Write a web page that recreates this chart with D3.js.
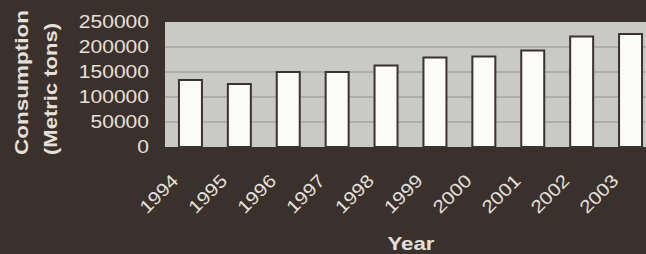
<!DOCTYPE html>
<html>
<head>
<meta charset="utf-8">
<script src="https://cdn.jsdelivr.net/npm/d3@7"></script>
<style>
  html, body { margin: 0; padding: 0; background: #3b312c; }
  svg { display: block; }
</style>
</head>
<body>
<div id="chart"></div>
<script>
// chart data
var years = ["1994", "1995", "1996", "1997", "1998", "1999", "2000", "2001", "2002", "2003"];
var consumption = [134000, 126000, 150000, 150000, 163000, 179000, 181000, 193000, 221000, 226000];
var yTicks = [0, 50000, 100000, 150000, 200000, 250000];

var svgWidth = 646, svgHeight = 254;
var margin = { top: 22, left: 165, bottom: 107 };
var plotHeight = svgHeight - margin.top - margin.bottom; // 125
var plotWidth = 490; // runs past the right edge like the original

var svg = d3.select("#chart")
    .append("svg")
    .attr("width", svgWidth)
    .attr("height", svgHeight);

svg.append("rect")
    .attr("width", svgWidth)
    .attr("height", svgHeight)
    .attr("fill", "#3b312c");

var g = svg.append("g")
    .attr("transform", "translate(" + margin.left + "," + margin.top + ")");

var xScale = d3.scaleBand()
    .domain(years)
    .range([1, 1 + 48.9 * years.length])
    .paddingInner(0.53)
    .paddingOuter(0.265);

var yScale = d3.scaleLinear()
    .domain([0, 250000])
    .range([plotHeight, 0]);

// plot background
g.append("rect")
    .attr("width", plotWidth)
    .attr("height", plotHeight)
    .attr("fill", "#c9c9c6");

// gridlines
g.selectAll(".grid")
    .data(yTicks.filter(function(d) { return d > 0 && d < 250000; }))
    .enter().append("line")
    .attr("class", "grid")
    .attr("x1", 0)
    .attr("x2", plotWidth)
    .attr("y1", function(d) { return yScale(d); })
    .attr("y2", function(d) { return yScale(d); })
    .attr("stroke", "#929290")
    .attr("stroke-width", 1.2);

// bars
g.selectAll(".bar")
    .data(consumption)
    .enter().append("rect")
    .attr("class", "bar")
    .attr("x", function(d, i) { return xScale(years[i]); })
    .attr("width", xScale.bandwidth())
    .attr("y", function(d) { return yScale(d); })
    .attr("height", function(d) { return plotHeight - yScale(d); })
    .attr("fill", "#fbfbfa")
    .attr("stroke", "#3a3330")
    .attr("stroke-width", 2);

// y axis
var yAxisGroup = g.append("g")
    .attr("class", "y-axis")
    .call(d3.axisLeft(yScale).tickValues(yTicks).tickSize(0).tickPadding(16).tickFormat(d3.format("d")));
yAxisGroup.select(".domain").remove();
yAxisGroup.selectAll("text")
    .attr("fill", "#e4e0dc")
    .style("font-family", "'Liberation Sans', Arial, sans-serif")
    .style("font-size", "18px")
    .attr("textLength", function(d) { return String(d).length * 11.7; })
    .attr("lengthAdjust", "spacingAndGlyphs");

// x axis
var xAxisGroup = g.append("g")
    .attr("class", "x-axis")
    .attr("transform", "translate(0," + plotHeight + ")")
    .call(d3.axisBottom(xScale).tickSize(0));
xAxisGroup.select(".domain").remove();
xAxisGroup.selectAll("text")
    .attr("y", 0)
    .attr("dy", 0)
    .attr("transform", "translate(-11,35) rotate(-45)")
    .style("text-anchor", "end")
    .attr("fill", "#e4e0dc")
    .style("font-family", "'Liberation Sans', Arial, sans-serif")
    .style("font-size", "18px")
    .attr("textLength", 46)
    .attr("lengthAdjust", "spacingAndGlyphs");

// axis titles
svg.append("text")
    .attr("transform", "translate(28,155) rotate(-90)")
    .attr("fill", "#e4e0dc")
    .style("font-family", "'Liberation Sans', Arial, sans-serif")
    .style("font-weight", "bold")
    .style("font-size", "18px")
    .attr("textLength", 145)
    .attr("lengthAdjust", "spacingAndGlyphs")
    .text("Consumption");

svg.append("text")
    .attr("transform", "translate(57,155) rotate(-90)")
    .attr("fill", "#e4e0dc")
    .style("font-family", "'Liberation Sans', Arial, sans-serif")
    .style("font-weight", "bold")
    .style("font-size", "18px")
    .attr("textLength", 132)
    .attr("lengthAdjust", "spacingAndGlyphs")
    .text("(Metric tons)");

svg.append("text")
    .attr("x", 411)
    .attr("y", 250)
    .attr("fill", "#e4e0dc")
    .style("text-anchor", "middle")
    .style("font-family", "'Liberation Sans', Arial, sans-serif")
    .style("font-weight", "bold")
    .style("font-size", "19px")
    .attr("textLength", 47)
    .attr("lengthAdjust", "spacingAndGlyphs")
    .text("Year");
</script>
</body>
</html>
